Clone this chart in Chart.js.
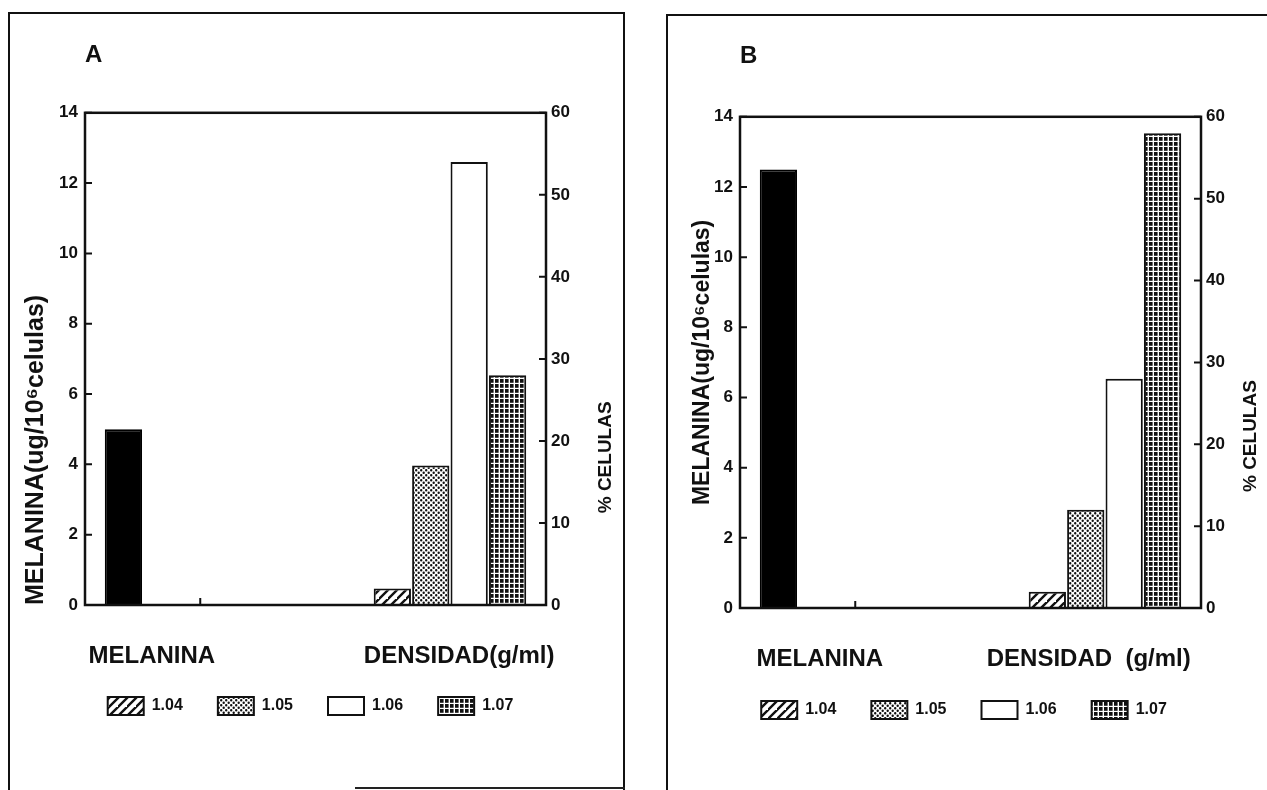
<!DOCTYPE html>
<html>
<head>
<meta charset="utf-8">
<script src="https://cdn.jsdelivr.net/npm/chart.js@4.4.1/dist/chart.umd.min.js"></script>
<style>
  html, body { margin: 0; padding: 0; background: #fff; }
  body { width: 1267px; height: 790px; position: relative; overflow: hidden; }
  .panel { position: absolute; box-sizing: border-box; border: 2px solid #111; }
  #panelA { left: 8px; top: 12px; width: 617px; height: 800px; border-bottom: none; }
  #panelB { left: 666px; top: 14px; width: 700px; height: 900px; }
  .borde { position: absolute; height: 2px; background: #222; }
  canvas { position: absolute; }
  #chartA { left: 10px; top: 14px; }
  #chartB { left: 669px; top: 17px; }
</style>
</head>
<body>
<div class="panel" id="panelA"></div>
<div class="borde" style="left:355px; top:787px; width:270px;"></div>
<div class="panel" id="panelB"></div>
<canvas id="chartA" width="610" height="772"></canvas>
<canvas id="chartB" width="598" height="771"></canvas>
<script>
// Fracciones de densidad (g/ml)
const densidades = ['1.04', '1.05', '1.06', '1.07'];

// Rótulos del eje horizontal (una casilla por posición de barra)
const categoriasA = ['', '', 'MELANINA', '', '', '', '', '', '', '', 'DENSIDAD(g/ml)', '', ''];
const categoriasB = ['', '', 'MELANINA', '', '', '', '', '', '', 'DENSIDAD  (g/ml)', '', '', ''];

// Contenido de melanina (ug/10^6 células)
const melaninaA = 5.0;
const melaninaB = 12.5;

// Porcentaje de células en cada fracción de densidad
const celulasA = [2, 17, 54, 28];
const celulasB = [2, 12, 28, 58];

// Escalas: [mínimo, máximo, paso]
const escalaMelanina = [0, 14, 2];
const escalaCelulas = [0, 60, 10];

const FUENTE = '"Liberation Sans", Arial, Helvetica, sans-serif';
const TINTA = '#111';

// Casillas que ocupan las barras
const CASILLA_MELANINA = 1;
const CASILLA_DENSIDAD = 8;

// Tramas de relleno
function trama(tipo) {
  const c = document.createElement('canvas');
  const s = tipo === 'rayas' ? 9 : 5;
  c.width = s; c.height = s;
  const g = c.getContext('2d');
  g.fillStyle = '#fff';
  g.fillRect(0, 0, s, s);
  g.fillStyle = TINTA;
  g.strokeStyle = TINTA;
  if (tipo === 'rayas') {
    g.lineWidth = 2.4;
    g.beginPath();
    g.moveTo(-2, s + 2); g.lineTo(s + 2, -2);
    g.moveTo(-2 - s, s + 2); g.lineTo(2, -2);
    g.moveTo(s - 2, 2 * s + 2); g.lineTo(2 * s + 2, s - 2);
    g.stroke();
  } else if (tipo === 'puntos') {
    g.beginPath();
    g.arc(1.2, 1.2, 1.2, 0, Math.PI * 2);
    g.arc(3.7, 3.7, 1.2, 0, Math.PI * 2);
    g.fill();
  } else if (tipo === 'reticula') {
    g.fillRect(0, 0, s, s);
    g.fillStyle = '#fff';
    g.fillRect(s - 1.4, 0, 1.4, s);
    g.fillRect(0, s - 1.2, s, 1.2);
  }
  return g.createPattern(c, 'repeat');
}
const rellenos = [trama('rayas'), trama('puntos'), '#ffffff', trama('reticula')];

function enCasilla(n, i, v) {
  const d = new Array(n).fill(null);
  d[i] = v;
  return d;
}

function conjuntos(cats, mel, cel) {
  const n = cats.length;
  const ds = [{
    label: 'MELANINA',
    data: enCasilla(n, CASILLA_MELANINA, mel),
    backgroundColor: '#000',
    borderColor: '#000',
    borderWidth: 2,
    yAxisID: 'y'
  }];
  densidades.forEach((d, i) => {
    ds.push({
      label: d,
      data: enCasilla(n, CASILLA_DENSIDAD + i, cel[i]),
      backgroundColor: rellenos[i],
      borderColor: TINTA,
      borderWidth: 2,
      yAxisID: 'y1'
    });
  });
  return ds;
}

// Marco del área de trazado, marcas interiores y título del eje derecho
const marco = {
  id: 'marco',
  afterLayout(chart, args, o) {
    // la leyenda queda justo debajo de los rótulos de categoría
    const lg = chart.legend;
    if (lg && o.subirLeyenda) {
      lg.top -= o.subirLeyenda;
      lg.bottom -= o.subirLeyenda;
    }
  },
  afterDatasetsDraw(chart, args, o) {
    const { ctx, chartArea: a, scales } = chart;
    ctx.save();
    ctx.strokeStyle = TINTA;
    ctx.lineWidth = 2.5;
    ctx.strokeRect(a.left, a.top, a.right - a.left, a.bottom - a.top);
    ctx.lineWidth = 2;
    ctx.beginPath();
    scales.y.ticks.forEach((t, i) => {
      const p = scales.y.getPixelForTick(i);
      ctx.moveTo(a.left, p); ctx.lineTo(a.left + 7, p);
    });
    scales.y1.ticks.forEach((t, i) => {
      const p = scales.y1.getPixelForTick(i);
      ctx.moveTo(a.right, p); ctx.lineTo(a.right - 7, p);
    });
    const px = scales.x.getPixelForTick(o.marcaX);
    ctx.moveTo(px, a.bottom); ctx.lineTo(px, a.bottom - 7);
    ctx.stroke();

    ctx.translate(a.right + o.dx, a.bottom - o.fy * (a.bottom - a.top));
    ctx.rotate(-Math.PI / 2);
    ctx.fillStyle = TINTA;
    ctx.font = 'bold ' + o.size + 'px ' + FUENTE;
    ctx.textAlign = 'center';
    ctx.textBaseline = 'middle';
    ctx.fillText(o.texto, 0, 0);
    ctx.restore();
  }
};

function grafico(p) {
  const fuente = (size) => ({ family: FUENTE, size: size, weight: 'bold' });
  return new Chart(document.getElementById(p.id), {
    type: 'bar',
    data: { labels: p.categorias, datasets: conjuntos(p.categorias, p.melanina, p.celulas) },
    plugins: [marco],
    options: {
      responsive: false,
      animation: false,
      layout: { padding: { top: 10, left: 0, right: p.padDer, bottom: p.padInf } },
      datasets: { bar: { grouped: false, categoryPercentage: 1, barPercentage: 0.97 } },
      plugins: {
        tooltip: { enabled: false },
        title: {
          display: true, text: p.letra, align: 'start', fullSize: false,
          color: TINTA, font: fuente(24),
          padding: { top: p.titSup, bottom: p.titInf }
        },
        legend: {
          position: 'bottom',
          labels: {
            boxWidth: 36, boxHeight: 18, padding: 35, color: TINTA,
            font: fuente(16),
            filter: (item) => item.datasetIndex > 0
          }
        },
        marco: {
          marcaX: 3, dx: p.derDx, fy: p.derFy, size: p.derSize,
          texto: '% CELULAS', subirLeyenda: p.subir
        }
      },
      scales: {
        x: {
          type: 'category', offset: false,
          grid: { display: false, drawTicks: false }, border: { display: false },
          ticks: {
            autoSkip: false, maxRotation: 0, minRotation: 0, padding: 37,
            labelOffset: p.desplaz, color: TINTA, font: fuente(24)
          },
          afterFit(s) { s.height = 68; }
        },
        y: {
          position: 'left',
          min: escalaMelanina[0], max: escalaMelanina[1],
          grid: { display: false, drawTicks: false }, border: { display: false },
          ticks: { stepSize: escalaMelanina[2], padding: 7, color: TINTA, font: fuente(17) },
          title: {
            display: true, text: 'MELANINA(ug/10⁶celulas)', align: p.izqAlign,
            color: TINTA, font: fuente(p.izqSize), padding: { top: p.izqPad, bottom: 0 }
          },
          afterFit(s) { s.width = p.anchoIzq; }
        },
        y1: {
          position: 'right',
          min: escalaCelulas[0], max: escalaCelulas[1],
          grid: { display: false, drawTicks: false }, border: { display: false },
          ticks: { stepSize: escalaCelulas[2], padding: 5, color: TINTA, font: fuente(17) },
          afterFit(s) { s.width = p.anchoDer; }
        }
      }
    }
  });
}

grafico({
  id: 'chartA', letra: 'A', categorias: categoriasA, melanina: melaninaA, celulas: celulasA,
  padInf: 50, padDer: 9, titSup: 17, titInf: 43, desplaz: -10, subir: 11,
  anchoIzq: 75, anchoDer: 65, izqAlign: 'start', izqSize: 25, izqPad: 11,
  derDx: 60, derFy: 0.30, derSize: 19
});
grafico({
  id: 'chartB', letra: 'B', categorias: categoriasB, melanina: melaninaB, celulas: celulasB,
  padInf: 49, padDer: 8, titSup: 15, titInf: 46, desplaz: 3, subir: 10,
  anchoIzq: 71, anchoDer: 58, izqAlign: 'center', izqSize: 23, izqPad: 20,
  derDx: 50, derFy: 0.35, derSize: 19
});
</script>
</body>
</html>
